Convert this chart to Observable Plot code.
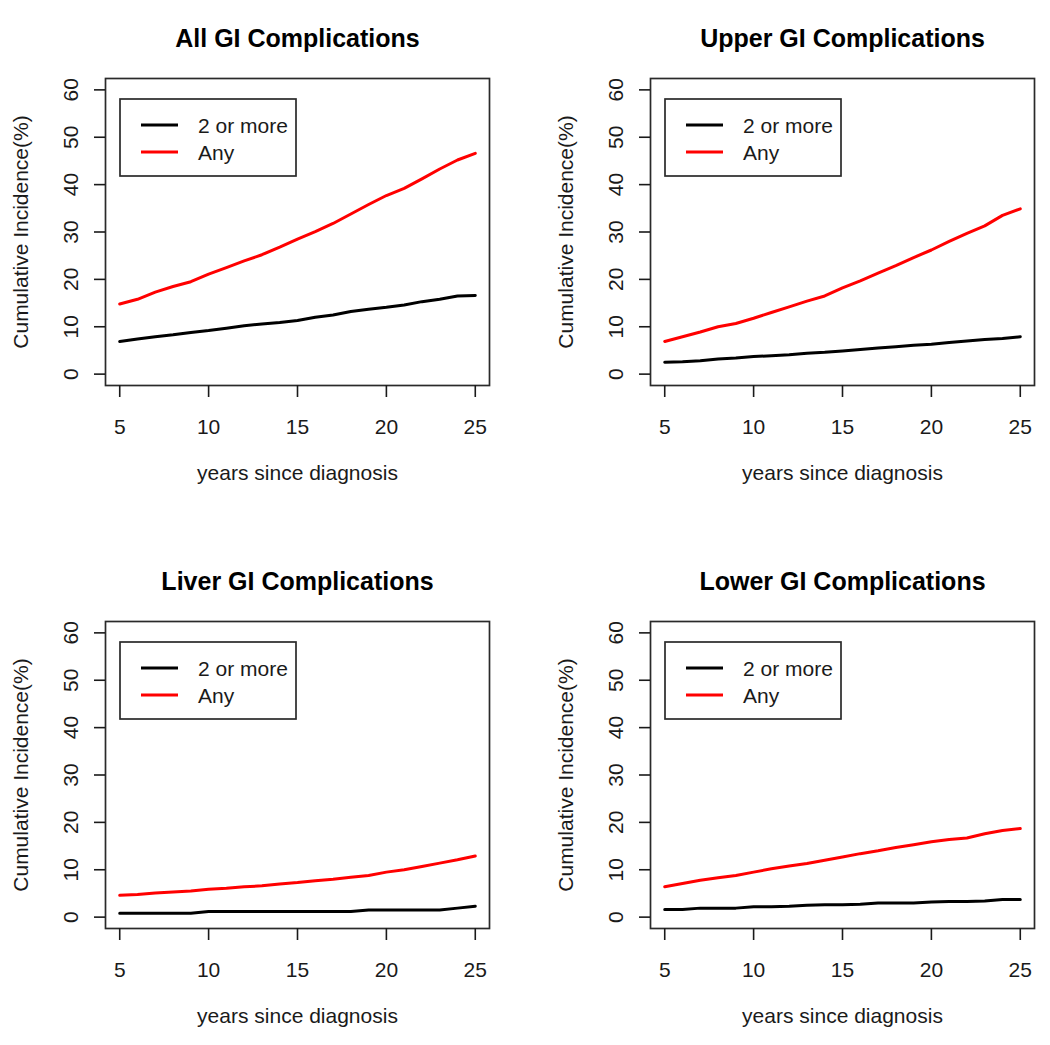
<!DOCTYPE html>
<html><head><meta charset="utf-8">
<script src="https://cdn.jsdelivr.net/npm/d3@7"></script>
<script src="https://cdn.jsdelivr.net/npm/@observablehq/plot@0.6"></script>
<style>
body{margin:0;background:#fff;}
#root{position:relative;width:1050px;height:1045px;background:#fff;}
.panel{position:absolute;}
</style></head><body><div id="root"></div>
<script>
const years = [5,6,7,8,9,10,11,12,13,14,15,16,17,18,19,20,21,22,23,24,25];

const allAny   = [14.8,15.8,17.3,18.5,19.5,21.1,22.5,23.9,25.2,26.8,28.5,30.1,31.8,33.8,35.8,37.7,39.2,41.2,43.3,45.2,46.6];
const allTwo   = [6.9,7.4,7.9,8.3,8.8,9.2,9.7,10.2,10.6,10.9,11.3,12.0,12.5,13.2,13.7,14.1,14.6,15.3,15.8,16.5,16.6];
const upperAny = [6.9,7.9,8.9,10.0,10.7,11.8,13.0,14.2,15.4,16.5,18.2,19.7,21.3,22.9,24.6,26.2,28.0,29.7,31.3,33.5,34.9];
const upperTwo = [2.5,2.6,2.8,3.2,3.4,3.7,3.9,4.1,4.4,4.6,4.9,5.2,5.5,5.8,6.1,6.3,6.7,7.0,7.3,7.5,7.9];
const liverAny = [4.6,4.8,5.1,5.3,5.5,5.9,6.1,6.4,6.6,7.0,7.3,7.7,8.0,8.4,8.8,9.5,10.0,10.7,11.4,12.1,12.9];
const liverTwo = [0.8,0.8,0.8,0.8,0.8,1.2,1.2,1.2,1.2,1.2,1.2,1.2,1.2,1.2,1.5,1.5,1.5,1.5,1.5,1.9,2.3];
const lowerAny = [6.4,7.1,7.8,8.3,8.8,9.5,10.2,10.8,11.3,12.0,12.7,13.4,14.0,14.7,15.3,15.9,16.4,16.7,17.6,18.3,18.7];
const lowerTwo = [1.6,1.6,1.9,1.9,1.9,2.2,2.2,2.3,2.5,2.6,2.6,2.7,3.0,3.0,3.0,3.2,3.3,3.3,3.4,3.7,3.7];

const titles = ["All GI Complications","Upper GI Complications","Liver GI Complications","Lower GI Complications"];
const seriesNames = ["2 or more","Any"];
const seriesColors = ["black","red"];
const xTicks = [5,10,15,20,25];
const yTicks = [0,10,20,30,40,50,60];
const xLabel = "years since diagnosis";
const yLabel = "Cumulative Incidence(%)";

const FONT = "'Liberation Sans', Arial, Helvetica, sans-serif";
const INK = "#1a1a1a";

const panels = [
  {title: titles[0], two: allTwo,   any: allAny,   left: 0,   top: 0,   h: 520, ml: 105, mt: 78},
  {title: titles[1], two: upperTwo, any: upperAny, left: 525, top: 0,   h: 520, ml: 125, mt: 78},
  {title: titles[2], two: liverTwo, any: liverAny, left: 0,   top: 540, h: 505, ml: 105, mt: 81},
  {title: titles[3], two: lowerTwo, any: lowerAny, left: 525, top: 540, h: 505, ml: 125, mt: 81}
];

const root = document.getElementById("root");

panels.forEach(p => {
  const W = 525, FW = 384, FH = 307;
  const twoData = years.map((x, i) => ({x, y: p.two[i]}));
  const anyData = years.map((x, i) => ({x, y: p.any[i]}));
  const svg = Plot.plot({
    width: W, height: p.h,
    marginLeft: p.ml, marginRight: W - p.ml - FW,
    marginTop: p.mt, marginBottom: p.h - p.mt - FH,
    x: {domain: [4.2, 25.8]},
    y: {domain: [-2.4, 62.4]},
    style: {fontFamily: FONT, fontSize: "21px", color: INK, background: "white", overflow: "visible"},
    marks: [
      Plot.line(twoData, {x: "x", y: "y", stroke: seriesColors[0], strokeWidth: 3}),
      Plot.line(anyData, {x: "x", y: "y", stroke: seriesColors[1], strokeWidth: 3}),
      Plot.frame({stroke: "#2a2a2a", strokeWidth: 1.7}),
      Plot.axisX({ticks: xTicks, tickSize: 12, tickPadding: 22, tickFormat: d => String(d), label: null, fontSize: 21, strokeWidth: 1.6}),
      Plot.axisY({ticks: yTicks, tickSize: 11, tickFormat: () => "", label: null, strokeWidth: 1.6}),
      Plot.text(yTicks, {y: d => d, text: d => String(d), frameAnchor: "left", dx: -34, rotate: -90, textAnchor: "middle", fontSize: 21, fill: INK}),
      Plot.text([p.title], {text: d => d, frameAnchor: "top", dy: -49, textAnchor: "middle", fontSize: 25, fontWeight: "bold", fill: "#000"}),
      Plot.text([xLabel], {text: d => d, frameAnchor: "bottom", dy: 94, textAnchor: "middle", fontSize: 21, fill: INK}),
      Plot.text([yLabel], {text: d => d, frameAnchor: "left", dx: -84, rotate: -90, textAnchor: "middle", fontSize: 21, fill: INK})
    ]
  });
  // legend box (top-left inside the frame)
  const g = d3.select(svg).append("g").attr("transform", `translate(${p.ml + 15},${p.mt + 21})`);
  g.append("rect").attr("width", 176).attr("height", 77)
    .attr("fill", "white").attr("stroke", "#2a2a2a").attr("stroke-width", 1.7);
  seriesNames.forEach((name, i) => {
    const yy = 26 + 27 * i;
    g.append("line").attr("x1", 21).attr("x2", 58).attr("y1", yy).attr("y2", yy)
      .attr("stroke", seriesColors[i]).attr("stroke-width", 3);
    g.append("text").attr("x", 78).attr("y", yy).attr("dy", "0.36em")
      .attr("text-anchor", "start")
      .attr("font-size", 21).attr("font-family", FONT).attr("fill", INK).text(name);
  });
  const div = document.createElement("div");
  div.className = "panel";
  div.style.left = p.left + "px";
  div.style.top = p.top + "px";
  div.appendChild(svg);
  root.appendChild(div);
});
</script>
</body></html>
